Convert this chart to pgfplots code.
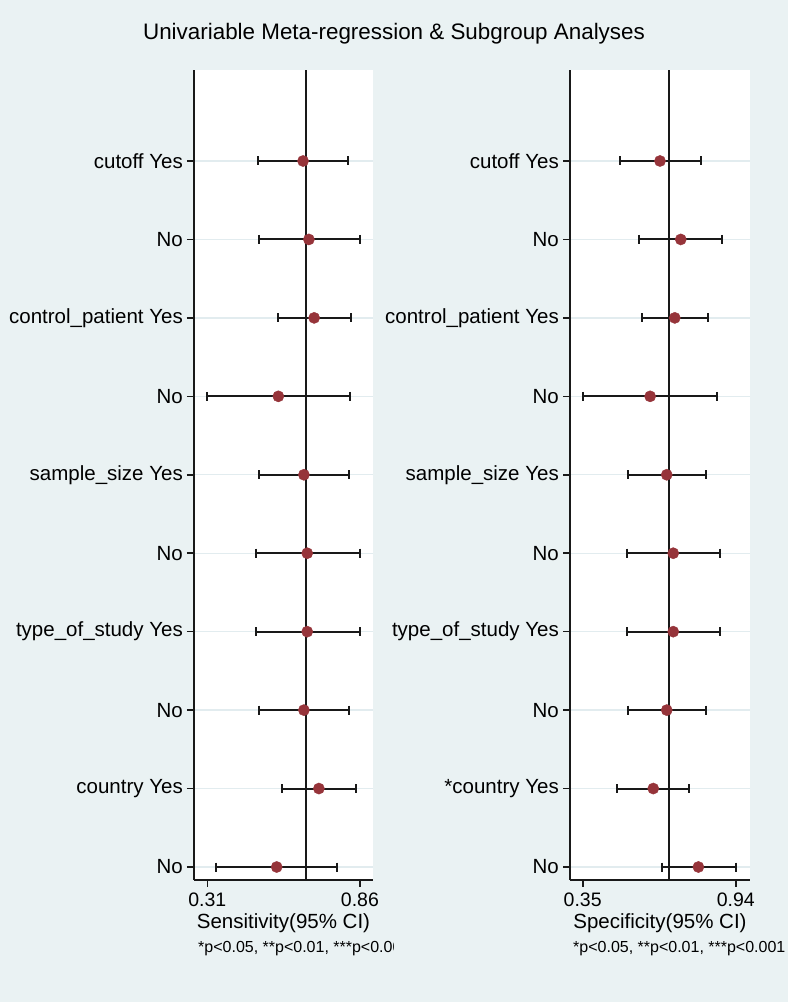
\documentclass[border=0pt]{standalone}
\usepackage{pgfplots}
\pgfplotsset{compat=1.18}
\usepackage{pgfplotstable}
\usepackage{fontspec}
\setmainfont{Liberation Sans}
\definecolor{bg}{RGB}{234,242,243}
\definecolor{gridc}{RGB}{226,236,239}
\definecolor{dot}{RGB}{150,52,58}
\definecolor{ink}{RGB}{25,25,25}

\pgfplotstableread{
row est lo hi
10 0.655 0.493 0.818
9 0.676 0.495 0.860
8 0.695 0.564 0.828
7 0.566 0.310 0.824
6 0.658 0.497 0.820
5 0.670 0.485 0.860
4 0.670 0.485 0.860
3 0.658 0.497 0.820
2 0.712 0.580 0.845
1 0.560 0.341 0.776
}\sens

\pgfplotstableread{
row est lo hi
10 0.648 0.494 0.806
9 0.728 0.568 0.888
8 0.705 0.580 0.832
7 0.610 0.350 0.867
6 0.674 0.524 0.824
5 0.699 0.521 0.881
4 0.699 0.521 0.881
3 0.674 0.524 0.824
2 0.622 0.483 0.761
1 0.796 0.655 0.940
}\spec

\pgfplotsset{myax/.style={
  scale only axis, height=810pt,
  ymin=0.8343, ymax=11.16,
  axis x line*=bottom, axis y line*=left,
  axis line style={line width=1.8pt, -, ink},
  tick align=outside, major tick length=7pt,
  tick style={ink, line width=1.6pt},
  ytick={1,...,10},
  ymajorgrids, major grid style={gridc, line width=1.3pt},
  axis background/.style={fill=white},
  yticklabel style={font=\fontsize{20.5}{24}\selectfont, inner sep=0pt, xshift=-4pt},
  xticklabel style={font=\fontsize{19.5}{22}\selectfont, inner sep=0pt, yshift=-6pt},
},
ci/.style={ink, line width=2pt},
cap/.style={only marks, mark=|, mark size=4.5pt, mark options={ink, line width=2pt}},
pt/.style={only marks, mark=*, mark size=5.6pt, color=dot, mark options={draw=dot, fill=dot, line width=0.4pt}},
}

\begin{document}
\begin{tikzpicture}
\fill[bg] (0,0) rectangle (788pt,1002pt);
\path[use as bounding box] (0,0) rectangle (788pt,1002pt);

\node[anchor=base, font=\fontsize{22.4}{26}\selectfont] at (394pt,962pt) {Univariable Meta-regression \& Subgroup Analyses};

% left panel
\begin{axis}[myax, at={(194pt,122pt)}, anchor=south west, width=179pt,
  xmin=0.262, xmax=0.907,
  xtick={0.31,0.86}, xticklabels={0.31,0.86},
  yticklabels={No, country Yes, No, type\_of\_study Yes, No, sample\_size Yes, No, control\_patient Yes, No, cutoff Yes}]
\addplot[ink, line width=2pt] coordinates {(0.664,0.8343) (0.664,11.16)};
\addplot[only marks, mark=none, error bars/.cd, x dir=both, x explicit,
  error bar style={ci}, error mark=none]
  table[x=est, y=row, x error plus expr=\thisrow{hi}-\thisrow{est}, x error minus expr=\thisrow{est}-\thisrow{lo}] {\sens};
\addplot[cap] table[x=lo, y=row] {\sens};
\addplot[cap] table[x=hi, y=row] {\sens};
\addplot[pt] table[x=est, y=row] {\sens};
\end{axis}

% right panel
\begin{axis}[myax, at={(570pt,122pt)}, anchor=south west, width=180pt,
  xmin=0.301, xmax=0.995,
  xtick={0.35,0.94}, xticklabels={0.35,0.94},
  yticklabels={No, *country Yes, No, type\_of\_study Yes, No, sample\_size Yes, No, control\_patient Yes, No, cutoff Yes}]
\addplot[ink, line width=2pt] coordinates {(0.684,0.8343) (0.684,11.16)};
\addplot[only marks, mark=none, error bars/.cd, x dir=both, x explicit,
  error bar style={ci}, error mark=none]
  table[x=est, y=row, x error plus expr=\thisrow{hi}-\thisrow{est}, x error minus expr=\thisrow{est}-\thisrow{lo}] {\spec};
\addplot[cap] table[x=lo, y=row] {\spec};
\addplot[cap] table[x=hi, y=row] {\spec};
\addplot[pt] table[x=est, y=row] {\spec};
\end{axis}

\node[anchor=base, font=\fontsize{20.5}{24}\selectfont] at (283.5pt,73pt) {Sensitivity(95\% CI)};
\node[anchor=base, font=\fontsize{20.5}{24}\selectfont] at (660pt,73pt) {Specificity(95\% CI)};
\begin{scope}
\clip (0,0) rectangle (393pt,1002pt);
\node[anchor=base west, inner sep=0pt, font=\fontsize{16}{19}\selectfont] at (198pt,49pt) {*p<0.05, **p<0.01, ***p<0.001};
\end{scope}
\node[anchor=base west, inner sep=0pt, font=\fontsize{16}{19}\selectfont] at (573pt,49pt) {*p<0.05, **p<0.01, ***p<0.001};
\end{tikzpicture}
\end{document}
